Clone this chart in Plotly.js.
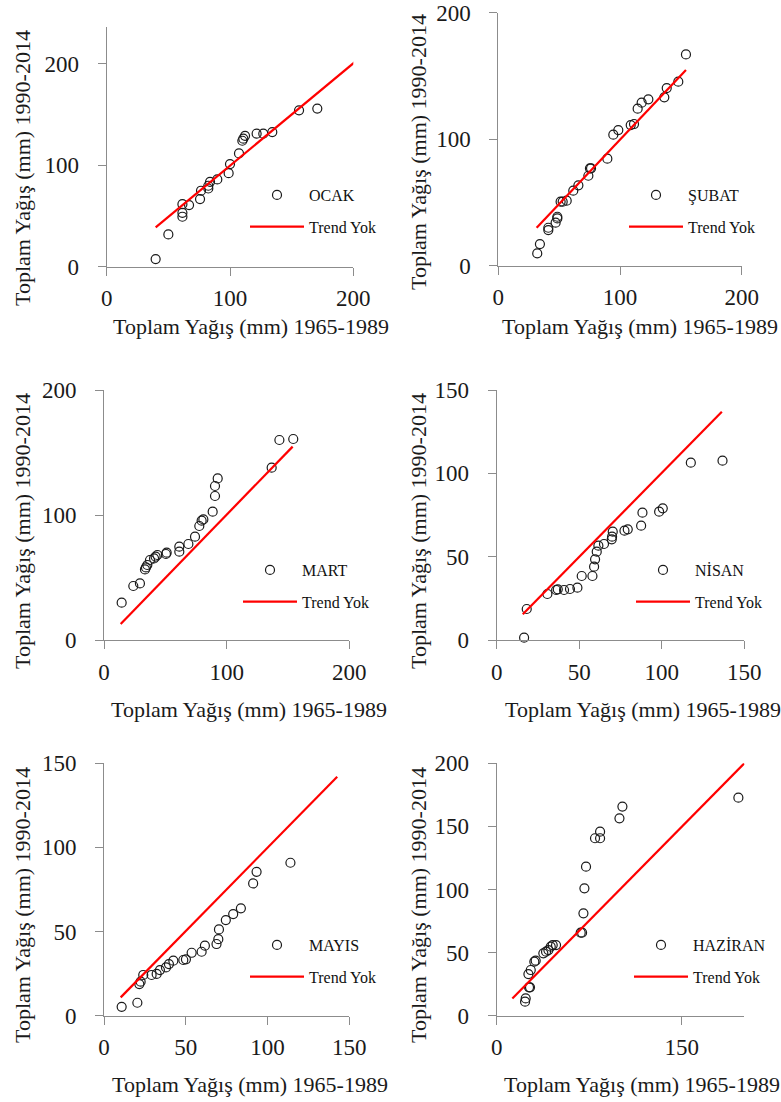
<!DOCTYPE html>
<html>
<head>
<meta charset="utf-8">
<script src="https://cdn.plot.ly/plotly-3.0.1.min.js"></script>
<style>html,body{margin:0;padding:0;background:#fff;}#chart{width:781px;height:1102px;}</style>
</head>
<body>
<div id="chart"></div>
<script>
// ---- Data ----
const months = ["OCAK", "ŞUBAT", "MART", "NİSAN", "MAYIS", "HAZİRAN"];
const trendName = "Trend Yok";
const xTitle = "Toplam Yağış (mm) 1965-1989";
const yTitle = "Toplam Yağış (mm) 1990-2014";

const ocakX = [39.7, 50, 61.4, 61.4, 61.4, 66.8, 75.7, 76.5, 82.4, 82.4, 83.8, 89.7, 98.9, 100, 107.3, 110, 110.8, 112.2, 121.6, 127, 134.3, 156, 170.8];
const ocakY = [7.5, 31.8, 49.2, 53, 61.6, 60.7, 66.6, 74.8, 77, 79.7, 83.6, 85.9, 92.1, 101, 111.5, 124, 126, 128.9, 131, 131, 132.5, 154, 155.7];
const ocakTrendX = [39.7, 201.4];
const ocakTrendY = [38.7, 201.6];

const subatX = [32, 34.2, 41.1, 41.1, 47.1, 48.5, 48.5, 51.2, 52.9, 56.2, 61.6, 65.8, 74, 75.3, 76.2, 89.6, 94.5, 98.6, 108.8, 111.5, 114.5, 117.8, 123.3, 136.4, 138.4, 147.9, 154.2];
const subatY = [9.7, 17.1, 28.2, 30, 34, 37.4, 38.7, 50.6, 50.6, 51.4, 59.3, 63.5, 71.1, 77, 77, 84.6, 103.6, 107.2, 111.2, 112, 124.1, 128.9, 131.5, 133.1, 140.4, 145.5, 167];
const subatTrendX = [31.5, 154.2];
const subatTrendY = [30, 154.7];

const martX = [14.4, 23.9, 29.3, 33.4, 34.2, 35.3, 37.5, 40.8, 42.1, 43.5, 50.5, 51.1, 61.4, 61.4, 68.8, 74.2, 77.7, 79.6, 81, 88.6, 90.5, 90.5, 92.7, 136.7, 143, 154.3];
const martY = [29.9, 43.2, 45.3, 56.5, 58.1, 60, 64, 65.3, 66.7, 68, 68.8, 69.9, 70.7, 74.7, 76.8, 82.7, 91.2, 95.5, 96.5, 102.7, 115.2, 123.2, 129.3, 137.9, 160, 160.8];
const martTrendX = [13.6, 153.8];
const martTrendY = [12.8, 154.7];

const nisanX = [16.6, 18.2, 30.7, 36, 37, 40.8, 44.4, 48.9, 51.5, 58, 59, 59.6, 60.6, 61.6, 65, 69.7, 69.9, 70.3, 77.4, 79.4, 87.5, 88.3, 98.4, 100.6, 117.6, 136.8];
const nisanY = [1.4, 18.6, 27.6, 30, 30.4, 30, 30.6, 31.4, 38.4, 38.4, 44, 48.4, 53, 56.6, 57.6, 60.4, 62, 65, 65.6, 66.4, 68.6, 76.4, 77, 79, 106.4, 107.6];
const nisanTrendX = [15.8, 136.4];
const nisanTrendY = [15.4, 137];

const mayisX = [10.8, 20.4, 21.6, 22.4, 24, 29.1, 32.2, 34.2, 37.9, 39.7, 42.4, 48.5, 50.1, 53.6, 59.7, 61.7, 68.8, 69.9, 70.3, 74.5, 79, 83.7, 91.2, 93.3, 114];
const mayisY = [5.3, 7.7, 18.8, 20.2, 24.2, 24.2, 24.8, 27.1, 28.7, 30.7, 32.7, 33.1, 33.5, 37.4, 38, 41.6, 42.6, 45.5, 51.3, 56.8, 60.4, 63.8, 78.6, 85.5, 90.9];
const mayisTrendX = [10.2, 142.6];
const mayisTrendY = [10.9, 142];

const haziranX = [13.5, 23, 23.5, 26.2, 27, 25.7, 27.6, 30.5, 31.6, 37.8, 40, 41.9, 43.8, 45.4, 48.1, 68.1, 69.2, 70.3, 71.1, 72.4, 79.7, 83.8, 83.8, 99.5, 101.9, 195.9];
const haziranY = [-0.8, 11.1, 13.7, 22.5, 22.5, 33, 36.2, 42.8, 43.6, 49.4, 50.7, 52, 54.7, 56, 56, 65.8, 65.8, 81.1, 100.9, 118.1, 140.6, 140.6, 145.8, 156.4, 165.7, 172.8];
const haziranTrendX = [12.7, 200.7];
const haziranTrendY = [13.7, 200];

// ---- Panel geometry (pixels in a 781x1102 page) ----
const W = 781, H = 1102;
const panels = [
  {name: months[0], x: ocakX, y: ocakY, tx: ocakTrendX, ty: ocakTrendY, px: [106.7, 353.3], py: [27, 266.7], xr: [0, 200], yr: [0, 236], xd: 100, yd: 100, leg: [245, 178], xt: [251, 326], yt: [22, 168]},
  {name: months[1], x: subatX, y: subatY, tx: subatTrendX, ty: subatTrendY, px: [498.3, 741.7], py: [12.7, 265.7], xr: [0, 200], yr: [0, 200], xd: 100, yd: 100, leg: [624, 178], xt: [640, 326], yt: [418, 152]},
  {name: months[2], x: martX, y: martY, tx: martTrendX, ty: martTrendY, px: [104, 349.3], py: [390, 640], xr: [0, 200], yr: [0, 200], xd: 100, yd: 100, leg: [238, 553], xt: [249, 709], yt: [22, 531]},
  {name: months[3], x: nisanX, y: nisanY, tx: nisanTrendX, ty: nisanTrendY, px: [496.7, 744.3], py: [390, 640], xr: [0, 150], yr: [0, 150], xd: 50, yd: 50, leg: [631, 553], xt: [643, 709], yt: [418, 531]},
  {name: months[4], x: mayisX, y: mayisY, tx: mayisTrendX, ty: mayisTrendY, px: [104, 349.3], py: [763.3, 1015.7], xr: [0, 150], yr: [0, 150], xd: 50, yd: 50, leg: [245, 928], xt: [250, 1084], yt: [22, 905]},
  {name: months[5], x: haziranX, y: haziranY, tx: haziranTrendX, ty: haziranTrendY, px: [496.7, 744.3], py: [763.3, 1015.7], xr: [0, 200.7], yr: [0, 200], xd: 150, yd: 50, leg: [629, 928], xt: [642, 1084], yt: [418, 905]}
];

const serif = "'Liberation Serif', 'Times New Roman', serif";
const axisGray = "#8c8c8c";
const data = [];
const layout = {
  width: W, height: H,
  margin: {l: 0, r: 0, t: 0, b: 0},
  paper_bgcolor: "#ffffff", plot_bgcolor: "#ffffff",
  font: {family: serif, color: "#111"},
  showlegend: true,
  annotations: []
};

panels.forEach((p, i) => {
  const n = i + 1;
  const xa = n === 1 ? "x" : "x" + n;
  const ya = n === 1 ? "y" : "y" + n;
  const legName = n === 1 ? "legend" : "legend" + n;
  data.push({
    type: "scatter", mode: "markers", x: p.x, y: p.y, xaxis: xa, yaxis: ya,
    name: p.name, legend: legName, legendgroup: "m" + n, cliponaxis: false,
    marker: {symbol: "circle-open", size: 9, color: "#1a1a1a", line: {width: 1.2, color: "#1a1a1a"}}
  });
  data.push({
    type: "scatter", mode: "lines", x: p.tx, y: p.ty, xaxis: xa, yaxis: ya,
    name: trendName, legend: legName, legendgroup: "t" + n,
    line: {color: "#ff0000", width: 2.2}
  });
  const axCommon = {
    showgrid: false, zeroline: false, showline: true, linecolor: axisGray, linewidth: 1,
    ticks: "outside", ticklen: 8, tickcolor: axisGray, tickwidth: 1,
    tickfont: {family: serif, size: 23, color: "#1a1a1a"}, fixedrange: true
  };
  layout["xaxis" + (n === 1 ? "" : n)] = Object.assign({}, axCommon, {
    domain: [p.px[0] / W, p.px[1] / W], range: p.xr, dtick: p.xd, tick0: 0,
    anchor: ya, ticklabelstandoff: 3
  });
  layout["yaxis" + (n === 1 ? "" : n)] = Object.assign({}, axCommon, {
    domain: [1 - p.py[1] / H, 1 - p.py[0] / H], range: p.yr, dtick: p.yd, tick0: 0,
    anchor: xa, ticklabelstandoff: 14
  });
  layout[legName] = {
    x: p.leg[0] / W, y: 1 - p.leg[1] / H, xanchor: "left", yanchor: "top",
    bgcolor: "rgba(0,0,0,0)", borderwidth: 0, itemwidth: 54, tracegroupgap: 8,
    font: {family: serif, size: 16, color: "#111"}
  };
  layout.annotations.push({
    xref: "paper", yref: "paper", x: p.xt[0] / W, y: 1 - p.xt[1] / H,
    xanchor: "center", yanchor: "middle", showarrow: false, text: xTitle,
    font: {family: serif, size: 22, color: "#1a1a1a"}
  });
  layout.annotations.push({
    xref: "paper", yref: "paper", x: p.yt[0] / W, y: 1 - p.yt[1] / H,
    xanchor: "center", yanchor: "middle", showarrow: false, text: yTitle, textangle: -90,
    font: {family: serif, size: 22, color: "#1a1a1a"}
  });
});

Plotly.newPlot("chart", data, layout, {displayModeBar: false, staticPlot: true});
</script>
</body>
</html>
